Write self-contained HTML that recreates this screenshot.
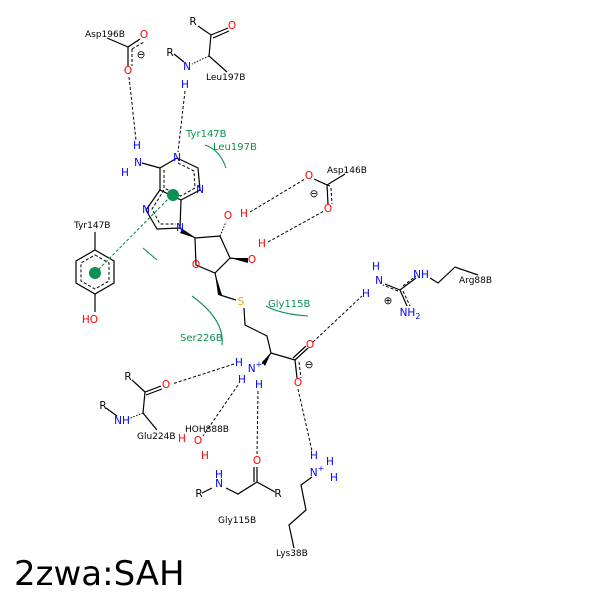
<!DOCTYPE html>
<html><head><style>body{margin:0;background:#fff}svg{display:block}</style></head><body>
<svg width="600" height="600" viewBox="0 0 600 600" xmlns="http://www.w3.org/2000/svg" font-family="DejaVu Sans, Liberation Sans, sans-serif">
<rect width="600" height="600" fill="#fff"/>
<g stroke="#000" stroke-width="1.2" fill="none">
<path d="M177,158 L198,168 L200,190 L181,200 L160,190 L160,168 Z"/>
<path d="M160,190 L146,210 L157,229 L180,228 L181,200"/>
<path d="M160,168 L142,163"/>
<path d="M180,228 L195,238"/>
<path d="M195,238 L220,236 L230,258 L215,273 L196,265 Z"/>
<path d="M215,273 L220,295 L236,300"/>
<path d="M230,258 L248,260"/>
<path d="M244,308 L245,325 L267,336 L271,353 L295,360"/>
<path d="M271,353 L262,364"/>
<path d="M295,360 L308,348 M293,358 L306,346"/>
<path d="M295,360 L297,378"/>
<path d="M314,179 L327,185 L328,204 M327,185 L345,174"/>
<path d="M385,284 L400,290 L416,278 M400,290 L407,306 M430,278 L438,283 L455,267 L478,275"/>
<path d="M95,250 L114,261 L114,283 L95,294 L76,283 L76,261 Z"/>
<path d="M95,250 L95,232 M95,294 L95,312"/>
<path d="M128,47 L140,39 M128,47 L128,66 M128,47 L107,38"/>
<path d="M198,26 L211,35 L228,28 M213,38 L229,31 M211,35 L209,56 L227,72 M174,54 L184,62"/>
<path d="M132,380 L145,392 L161,386 M146,395 L162,389 M145,392 L143,413 L157,430 M106,408 L117,416"/>
<path d="M257,467 L257,482 L275,492 M257,482 L238,494 L226,488 M212,488 L202,493"/>
<path d="M254,467 L254,482" />
<path d="M312,477 L301,485 L306,510 L289,525 L294,548"/>
</g>
<g fill="#000">
<path d="M195,238 L182,229 L180,233 Z"/>
<path d="M215,273 L218,295 L222,295 Z"/>
<path d="M230,258 L248,258 L248,263 Z"/>
<path d="M271,353 L262,362 L265,366 Z"/>
</g>
<g stroke="#000" stroke-width="1" stroke-dasharray="1.5,1.5">
<path d="M220,236 L226,222"/><path d="M209,56 L192,64"/><path d="M143,413 L128,419"/>
</g>
<g stroke="#000" stroke-width="1" stroke-dasharray="3,2" fill="none">
<path d="M178,163 L194,171 L195,188 L181,196 L164,188 L164,170"/>
<path d="M164,190 L152,209 L160,224 L176,224"/>
<path d="M95,255 L109,263 L109,281 L95,289 L81,281 L81,263 Z"/>
<path d="M132,49 L144,42 M132,49 L132,66 M331,188 L332,204 M330,186 L316,180 M403,286 L416,276 M403,291 L410,306 M398,291 L383,285 M299,362 L301,378"/>
</g>
<g stroke="#000" stroke-width="1" stroke-dasharray="3,2" fill="none">
<path d="M129,77 L136,140"/><path d="M185,91 L178,152"/>
<path d="M250,212 L305,179"/><path d="M268,242 L324,211"/>
<path d="M313,342 L362,296"/><path d="M234,364 L172,384"/>
<path d="M238,385 L203,436"/><path d="M258,391 L257,455"/>
<path d="M298,389 L312,451"/>
</g>
<g stroke="#0a9150" stroke-width="1.1" fill="none">
<path d="M95,273 L173,194" stroke-dasharray="3,2"/>
<path d="M205,145 Q220,150 226,168"/>
<path d="M143,248 L157,260"/>
<path d="M192,296 Q225,320 222,345"/>
<path d="M266,306 Q280,314 308,316"/>
</g>
<circle cx="173" cy="195" r="6" fill="#0a9150"/>
<circle cx="95" cy="273" r="6" fill="#0a9150"/>
<g font-size="10" fill="#0a9150">
<text x="186" y="137">Tyr147B</text><text x="213" y="150">Leu197B</text>
<text x="268" y="307">Gly115B</text><text x="180" y="341">Ser226B</text>
</g>
<g font-size="9" fill="#000">
<text x="85" y="37">Asp196B</text><text x="206" y="80">Leu197B</text>
<text x="327" y="173">Asp146B</text><text x="459" y="283">Arg88B</text>
<text x="74" y="228">Tyr147B</text><text x="137" y="439">Glu224B</text>
<text x="185" y="432">HOH888B</text><text x="218" y="523">Gly115B</text>
<text x="276" y="556">Lys38B</text>
</g>
<g font-size="10.5" text-anchor="middle" dominant-baseline="central">
<g fill="#0000ff">
<text x="177" y="158">N</text><text x="200" y="190">N</text><text x="146" y="210">N</text><text x="180" y="228">N</text>
<text x="138" y="163">N</text><text x="137" y="146">H</text><text x="125" y="173">H</text>
<text x="187" y="67">N</text><text x="185" y="85">H</text>
<text x="255" y="369">N<tspan font-size="8" dy="-5">+</tspan></text><text x="239" y="363">H</text><text x="242" y="380">H</text><text x="259" y="385">H</text>
<text x="376" y="267">H</text><text x="379" y="281">N</text><text x="366" y="294">H</text><text x="421" y="275">NH</text><text x="410" y="313">NH<tspan font-size="8" dy="3">2</tspan></text>
<text x="122" y="421">NH</text>
<text x="219" y="475">H</text><text x="219" y="484">N</text>
<text x="314" y="456">H</text><text x="317" y="473">N<tspan font-size="8" dy="-5">+</tspan></text><text x="330" y="462">H</text><text x="334" y="478">H</text>
</g>
<g fill="#ff0000">
<text x="228" y="216">O</text><text x="244" y="214">H</text><text x="252" y="260">O</text><text x="262" y="244">H</text><text x="196" y="265">O</text>
<text x="309" y="176">O</text><text x="328" y="209">O</text><text x="144" y="35">O</text><text x="128" y="71">O</text><text x="232" y="26">O</text>
<text x="310" y="345">O</text><text x="298" y="383">O</text><text x="166" y="385">O</text>
<text x="182" y="439">H</text><text x="198" y="441">O</text><text x="205" y="456">H</text><text x="257" y="461">O</text>
<text x="90" y="320">HO</text>
</g>
<text x="241" y="302" fill="#e6a800">S</text>
<g fill="#000">
<text x="193" y="22">R</text><text x="170" y="53">R</text><text x="128" y="377">R</text><text x="103" y="406">R</text><text x="199" y="494">R</text><text x="278" y="494">R</text>
<text x="141" y="55">⊖</text><text x="314" y="194">⊖</text><text x="309" y="365">⊖</text><text x="388" y="301">⊕</text>
</g>
</g>
<text x="14" y="585" font-size="34" fill="#000">2zwa:SAH</text>
</svg>
</body></html>
